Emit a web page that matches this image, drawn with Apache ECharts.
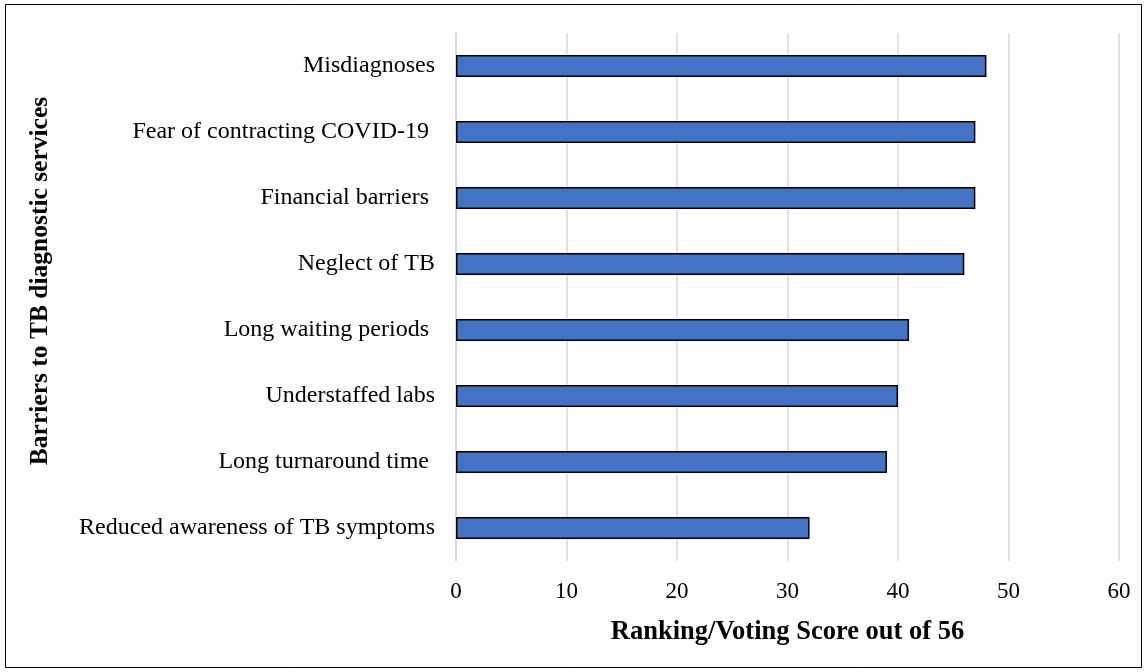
<!DOCTYPE html>
<html>
<head>
<meta charset="utf-8">
<script src="https://cdn.jsdelivr.net/npm/echarts@6/dist/echarts.min.js"></script>
<style>
  html, body { margin: 0; padding: 0; background: #fff; }
  #chart { width: 1147px; height: 672px; }
</style>
</head>
<body>
<div id="chart"></div>
<script>
// Barriers, listed top to bottom (trailing spaces kept as in the source labels)
const categories = [
  'Misdiagnoses',
  'Fear of contracting COVID-19 ',
  'Financial barriers ',
  'Neglect of TB',
  'Long waiting periods ',
  'Understaffed labs',
  'Long turnaround time ',
  'Reduced awareness of TB symptoms'
];
// Ranking/voting score (out of 56)
const scores = [48, 47, 47, 46, 41, 40, 39, 32];
const xTicks = [0, 10, 20, 30, 40, 50, 60];

const serif = "'Liberation Serif', 'Times New Roman', serif";
const chart = echarts.init(document.getElementById('chart'), null, { renderer: 'canvas' });

chart.setOption({
  backgroundColor: '#ffffff',
  animation: false,
  grid: { left: 456, right: 28, top: 33, bottom: 111, containLabel: false },
  xAxis: {
    type: 'value',
    min: xTicks[0],
    max: xTicks[xTicks.length - 1],
    interval: xTicks[1] - xTicks[0],
    name: 'Ranking/Voting Score out of 56',
    nameLocation: 'middle',
    nameGap: 58,
    nameTextStyle: { fontFamily: serif, fontSize: 26.5, fontWeight: 'bold', color: '#000' },
    axisLine: { show: false },
    axisTick: { show: false },
    axisLabel: { fontFamily: serif, fontSize: 23, color: '#000', margin: 19 },
    splitLine: { show: true, lineStyle: { color: '#d9d9d9', width: 1.5 } }
  },
  yAxis: {
    type: 'category',
    data: categories,
    inverse: true,
    axisLine: { show: true, lineStyle: { color: '#d9d9d9', width: 1.5 } },
    axisTick: { show: false },
    axisLabel: { fontFamily: serif, fontSize: 24, color: '#000', margin: 21 }
  },
  series: [{
    type: 'bar',
    data: scores,
    barWidth: 22,
    itemStyle: { color: '#4472c4', borderColor: '#000', borderWidth: 1.5 }
  }],
  graphic: [
    {
      type: 'rect',
      shape: { x: 5.5, y: 4.5, width: 1136, height: 663 },
      style: { fill: 'none', stroke: '#000', lineWidth: 1 },
      silent: true
    },
    {
      type: 'text',
      x: 40,
      y: 281,
      rotation: Math.PI / 2,
      style: {
        text: 'Barriers to TB diagnostic services',
        font: "bold 25.5px 'Liberation Serif', 'Times New Roman', serif",
        fill: '#000',
        align: 'center',
        verticalAlign: 'middle'
      }
    }
  ]
});
</script>
</body>
</html>
